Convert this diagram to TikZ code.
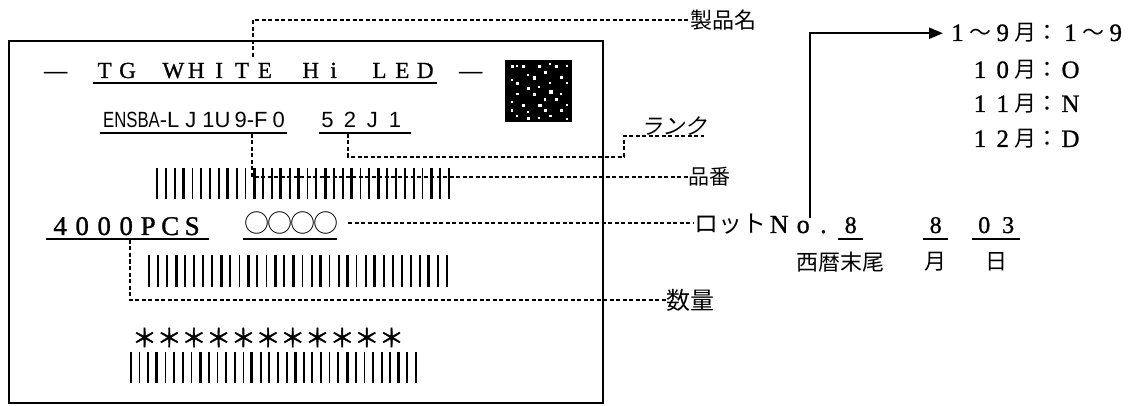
\documentclass[tikz,border=0pt]{standalone}
\usepackage{fontspec}
\setmainfont{Liberation Serif}
\newfontfamily\serf{Liberation Serif}[FakeBold=1]
\newfontfamily\jpf{Noto Sans CJK JP}
\newfontfamily\jpb{Noto Sans CJK JP}[FakeBold=1.5]
\newfontfamily\jpsl{Noto Sans CJK JP}[FakeSlant=0.25]
\newfontfamily\gsf{Liberation Sans}
\usetikzlibrary{arrows.meta}
\newlength\cw
\newcommand\cc[1]{\makebox[\cw][c]{#1}}
\newcommand\fs[1]{\fontsize{#1}{#1}\selectfont}
\newcommand\barrow[4]{%
  \foreach \w [count=\i from 0] in {2.5,1.5,2,3,1.5,2,2.5,1.5,3,2,1.5,2.5,2,1.5,3,2,2.5,1.5,2,3,1.5,2,2.5,1.5,2,3,2,1.5,2.5,2,1.5,3,2,2.5}{%
    \draw[line width=\w pt] ({#1+\i*#2},#3) -- ({#1+\i*#2},#4);}}
\tikzset{
  lbl/.style={inner sep=0pt, anchor=base west},
  lead/.style={line width=1.2pt, dash pattern=on 4pt off 2.5pt},
  ul/.style={line width=1.4pt},
  ser/.style={font=\serf\fs{23}},
  jpl/.style={font=\jpf\fs{22}},
  frame/.style={line width=1.9pt},
  bigarrow/.style={line width=2.3pt, -{Triangle[length=14pt,width=11pt]}}
}
\begin{document}
\begin{tikzpicture}[x=1pt,y=-1pt]
\useasboundingbox (0,0) rectangle (1146,406);
% label frame
\draw[frame] (9,41) rectangle (603,403);
% row 1
\node[lbl,ser] (d1) at (44,78) {\setlength\cw{22.9pt}\cc{—}};
\node[lbl,ser] (tg) at (93,78) {\setlength\cw{22.9pt}\cc{T}\cc{G}\cc{}\cc{W}\cc{H}\cc{I}\cc{T}\cc{E}\cc{}\cc{H}\cc{i}\cc{}\cc{L}\cc{E}\cc{D}};
\node[lbl,ser] (d2) at (459,78) {\setlength\cw{22.9pt}\cc{—}};
\draw[ul] ([yshift=-5pt]tg.base west) -- ([yshift=-5pt]tg.base east);
% QR code
\fill (505,60) rectangle (572,122);
\foreach \c/\r/\s in {1/1/3,2/1/2,3/1/3,6/1/2.5,8/0.5/2,9/1/3,11/1/2,7/2/3,4/2.5/2,5/3/3.5,10/3/2.5,1/3.5/2,2/4/3,8/4/2,11/4/2.5,4/5/3,6/4.8/2,8/5.5/3.5,2/6/2.5,5/6/3,10/6/2,7/7/2.5,9/7/3,1/7.5/2,3/8/3,6/8/3.5,11/8/2,1/9/2.5,4/9.2/2,7/9/3,10/9/2.5,2/10/2,4/10.3/3,8/10/2.5,11/10.5/2,6/10.4/2}
  \fill[white] ({505+\c*5.5},{60+\r*5.5}) rectangle ++(\s,\s);
% row 2
\node[lbl,font=\gsf\fs{22}] (pn) at (103,128) {\scalebox{0.76}[1]{ENSBA}-L\hspace{6pt}J\hspace{6pt}1U\hspace{4pt}9-F\hspace{5pt}0};
\node[lbl,font=\gsf\fs{22}] (rk) at (316,128) {\setlength\cw{22.5pt}\cc{5}\cc{2}\cc{J}\cc{1}};
\draw[ul] ([yshift=-5pt,xshift=-3pt]pn.base west) -- ([yshift=-5pt,xshift=2pt]pn.base east);
\draw[ul] ([yshift=-5pt,xshift=3pt]rk.base west) -- ([yshift=-5pt,xshift=5pt]rk.base east);
% barcodes
\barrow{157}{8.85}{168}{199}
\barrow{149}{9.03}{255}{287}
\barrow{131}{8.64}{352}{383}
% row 3
\node[lbl,font=\serf\fs{27}] (qty) at (49,235) {\setlength\cw{22pt}\cc{4}\cc{0}\cc{0}\cc{0}\cc{P}\cc{C}\cc{S}};
\node[lbl,font=\jpf\fs{25}] (lotc) at (245,233) {\setlength\cw{23pt}\cc{○}\cc{○}\cc{○}\cc{○}};
\draw[ul] ([yshift=-4pt,xshift=-3pt]qty.base west) -- ([yshift=-4pt,xshift=6pt]qty.base east);
\draw[ul] ([yshift=-6pt,xshift=-2pt]lotc.base west) -- ([yshift=-6pt]lotc.base east);
% asterisks
\node[lbl,font=\jpb\fs{25}] (ast) at (132,347) {\setlength\cw{24.7pt}\cc{＊}\cc{＊}\cc{＊}\cc{＊}\cc{＊}\cc{＊}\cc{＊}\cc{＊}\cc{＊}\cc{＊}\cc{＊}};
% right labels
\node[jpl,inner sep=0pt,anchor=west] (pname) at (690,20) {製品名};
\node[inner sep=0pt,anchor=west,font=\jpf\fs{21}] (hban) at (688,177) {品番};
\node[inner sep=0pt,anchor=south west,font=\jpsl\fs{22}] (rank) at (640,136) {ランク};
\node[lbl,font=\jpf\fs{24}] (lot) at (694,233) {ロット\serf\fs{26}\setlength\cw{22pt}\makebox[26pt]{N}\cc{o}\makebox[\cw][l]{\hspace{6pt}.}};
\node[lbl,font=\serf\fs{24}] (yr) at (838,233) {\makebox[25pt]{8}};
\node[lbl,font=\serf\fs{24}] (mo) at (923,233) {\makebox[25pt]{8}};
\node[lbl,font=\serf\fs{24}] (dy) at (972,233) {\setlength\cw{24pt}\cc{0}\cc{3}};
\draw[ul] ([yshift=-6pt]yr.base west) -- ([yshift=-6pt]yr.base east);
\draw[ul] ([yshift=-6pt]mo.base west) -- ([yshift=-6pt]mo.base east);
\draw[ul] ([yshift=-6pt]dy.base west) -- ([yshift=-6pt]dy.base east);
\node[jpl] (yrl) at (840,262) {西暦末尾};
\node[jpl] (mol) at (935,262) {月};
\node[jpl] (dyl) at (996,262) {日};
\node[inner sep=0pt,anchor=west,font=\jpf\fs{24}] (suryo) at (666,300) {数量};
% month code list
\node[lbl,font=\serf\fs{25}] (m1) at (946,41) {\setlength\cw{22.6pt}\cc{1}\cc{\jpf\fs{22}～}\cc{9}\cc{\jpf\fs{22}月}\cc{\jpf\fs{22}：}\cc{1}\cc{\jpf\fs{22}～}\cc{9}};
\node[lbl,font=\serf\fs{25}] (m2) at (968.6,78) {\setlength\cw{22.6pt}\cc{1}\cc{0}\cc{\jpf\fs{22}月}\cc{\jpf\fs{22}：}\cc{O}};
\node[lbl,font=\serf\fs{25}] (m3) at (968.6,112) {\setlength\cw{22.6pt}\cc{1}\cc{1}\cc{\jpf\fs{22}月}\cc{\jpf\fs{22}：}\cc{N}};
\node[lbl,font=\serf\fs{25}] (m4) at (968.6,147) {\setlength\cw{22.6pt}\cc{1}\cc{2}\cc{\jpf\fs{22}月}\cc{\jpf\fs{22}：}\cc{D}};
% leader lines
\coordinate (pnTop) at (253,57);
\coordinate (hbTop) at (252,134);
\coordinate (rkTop) at (348,134);
\coordinate (rkBend) at (624,157);
\coordinate (rkEnd) at (704,136);
\coordinate (ltStart) at (348,223);
\coordinate (sqTop) at (130,240);
\coordinate (arrStart) at (810,218);
\draw[lead] (pnTop) |- (pname.west);
\draw[lead] (hbTop) |- (hban.west);
\draw[lead] (rkTop) |- (rkBend) |- (rkEnd);
\draw[lead] (ltStart) -- (ltStart -| lot.west);
\draw[lead] (sqTop) |- (suryo.west);
\draw[bigarrow] (arrStart) |- ([xshift=-3pt]m1.west);
\end{tikzpicture}
\end{document}
